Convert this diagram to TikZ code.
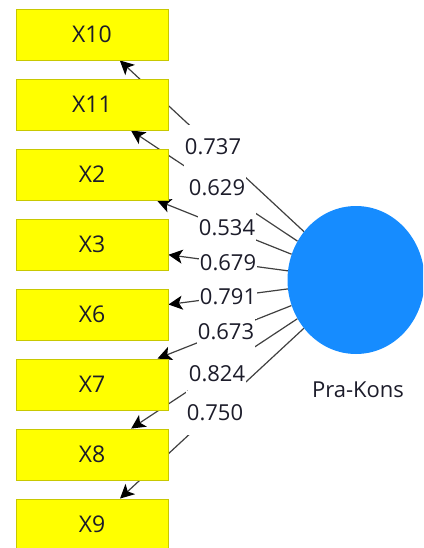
\documentclass[tikz,border=0pt]{standalone}
\usepackage{fontspec}
\setmainfont{Open Sans}
\usetikzlibrary{arrows.meta,shapes.geometric,calc}
\definecolor{boxfill}{HTML}{FFFF00}
\definecolor{boxline}{HTML}{C8C800}
\definecolor{lvfill}{HTML}{168CFF}
\definecolor{edgecol}{HTML}{404040}
\definecolor{txtcol}{HTML}{1C1C2A}
\pgfdeclarelayer{bg}
\pgfsetlayers{bg,main}
\tikzset{
  ind/.style={rectangle, draw=boxline, fill=boxfill, line width=0.9pt,
    minimum width=152pt, minimum height=51pt, inner sep=0pt,
    font=\fontsize{23}{27}\selectfont, text=txtcol},
  lv/.style={ellipse, fill=lvfill, draw=none, minimum width=137pt,
    minimum height=148pt, inner sep=0pt},
  link/.style={draw=edgecol, line width=1.2pt,
    -{Stealth[length=14pt,width=14pt,inset=3.5pt,color=black]}},
  lbl/.style={fill=white, inner xsep=1pt, inner ysep=0pt, minimum height=44pt,
    text=txtcol, font=\fontsize{22}{26}\selectfont},
  lvname/.style={text=txtcol, font=\fontsize{22}{26}\selectfont, inner sep=0pt}
}
\begin{document}
\begin{tikzpicture}[x=1pt,y=-1pt]
\useasboundingbox (0,0) rectangle (423,548);
\clip (0,0) rectangle (423,548);
\node[ind] (x10) at (92,34.5) {X10};
\node[ind] (x11) at (92,104.5) {X11};
\node[ind] (x2) at (92,174.5) {X2};
\node[ind] (x3) at (92,244.5) {X3};
\node[ind] (x6) at (92,314.5) {X6};
\node[ind] (x7) at (92,384.5) {X7};
\node[ind] (x8) at (92,454.5) {X8};
\node[ind] (x9) at (92,524.5) {X9};
\node[lv] (c) at (356,280) {};
\node[lvname] (cname) at (358,390) {Pra-Kons};
\begin{pgfonlayer}{bg}
\draw[link] (c) -- (x10);
\draw[link] (c) -- (x11);
\draw[link] (c) -- (x2);
\draw[link] (c) -- (x3);
\draw[link] (c) -- (x6);
\draw[link] (c) -- (x7);
\draw[link] (c) -- (x8);
\draw[link] (c) -- (x9);
\end{pgfonlayer}
\node[lbl] (l10) at (213,147) {0.737};
\node[lbl] (l11) at (217,188) {0.629};
\node[lbl] (l2) at (227,228) {0.534};
\node[lbl] (l3) at (228,263) {0.679};
\node[lbl] (l6) at (228,297) {0.791};
\node[lbl] (l7) at (226,332) {0.673};
\node[lbl] (l8) at (217,374) {0.824};
\node[lbl] (l9) at (215,413) {0.750};
\end{tikzpicture}
\end{document}
